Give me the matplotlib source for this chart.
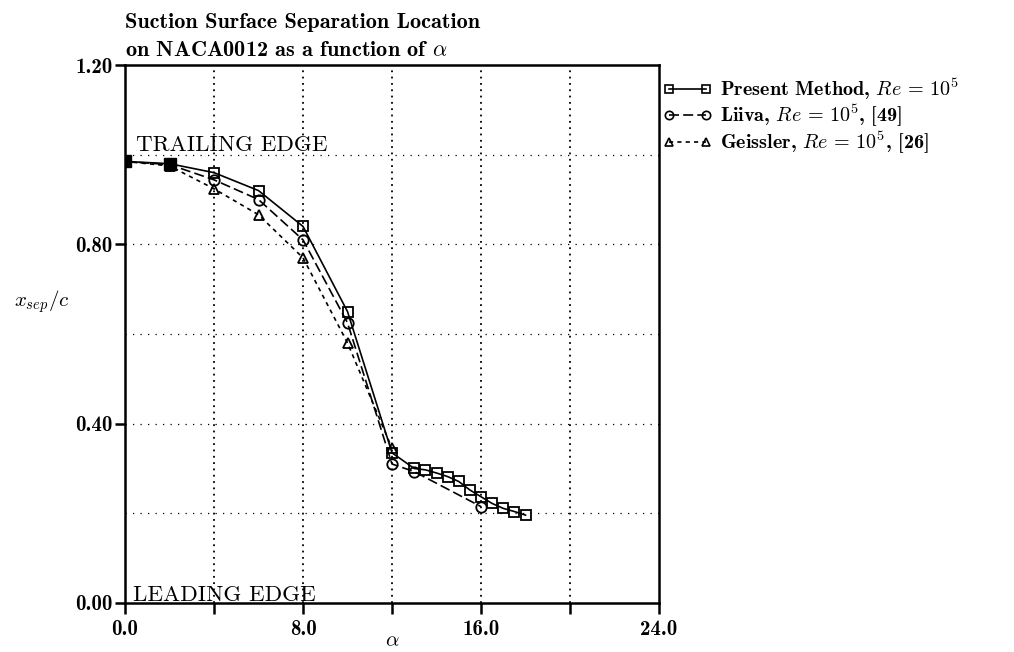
import matplotlib
matplotlib.use("Agg")
import matplotlib.pyplot as plt
from matplotlib.lines import Line2D

plt.rcParams['font.family'] = ['cmb10', 'DejaVu Serif']
plt.rcParams['mathtext.fontset'] = 'cm'
plt.rcParams['axes.unicode_minus'] = False

# Valeurs (x_sep/c en fonction de alpha)
alpha_present = [0, 2, 4, 6, 8, 10, 12, 13, 13.5, 14, 14.5, 15, 15.5, 16, 16.5, 17, 17.5, 18]
xsep_present = [0.985, 0.98, 0.96, 0.92, 0.84, 0.65, 0.335, 0.30, 0.297, 0.29, 0.282,
                0.271, 0.252, 0.237, 0.222, 0.211, 0.204, 0.196]
alpha_liiva = [0, 2, 4, 6, 8, 10, 12, 13, 16]
xsep_liiva = [0.985, 0.978, 0.944, 0.90, 0.81, 0.625, 0.31, 0.293, 0.215]
alpha_geissler = [0, 2, 4, 6, 8, 10, 12]
xsep_geissler = [0.985, 0.975, 0.924, 0.866, 0.77, 0.58, 0.345]

labels = [r'Present Method, $Re\,=\,10^5$',
          r'Liiva, $Re\,=\,10^5$, [49]',
          r'Geissler, $Re\,=\,10^5$, [26]']
x_major = [0, 8, 16, 24]
x_minor = [4, 12, 20]
y_major = [0.0, 0.4, 0.8, 1.2]
y_grid = [0.2, 0.4, 0.6, 0.8, 1.0]

fig = plt.figure(figsize=(10.14, 6.52), dpi=100)
ax = fig.add_axes([0.1233, 0.0752, 0.5266, 0.825])

# Grille pointillée
for gx in x_minor + x_major[1:-1]:
    ax.axvline(gx, color='black', lw=1.3, linestyle=(0, (1, 2.5)), zorder=1)
for gy in y_grid:
    ax.axhline(gy, color='black', lw=0.9, linestyle=(0, (1, 5)), zorder=1)

# Courbes
ax.plot(alpha_present, xsep_present, color='black', lw=1.2, linestyle='-',
        marker='s', ms=7.5, mfc='none', mew=1.3, zorder=3)
ax.plot(alpha_liiva, xsep_liiva, color='black', lw=1.2, linestyle=(0, (6, 2.5)),
        marker='o', ms=7.5, mfc='none', mew=1.3, zorder=3)
ax.plot(alpha_geissler, xsep_geissler, color='black', lw=1.2, linestyle=(0, (2.5, 2.5)),
        marker='^', ms=7.5, mfc='none', mew=1.3, zorder=3)
# les trois symboles se superposent a alpha = 0 et 2 (taches noires)
ax.plot(alpha_present[:2], xsep_present[:2], linestyle='none', marker='s', ms=8,
        color='black', zorder=4)

ax.set_xlim(0, 24)
ax.set_ylim(0, 1.2)
ax.set_xticks(x_major)
ax.set_xticklabels(['%.1f' % v for v in x_major])
ax.set_xticks(x_minor, minor=True)
ax.set_yticks(y_major)
ax.set_yticklabels(['%.2f' % v for v in y_major])
ax.tick_params(axis='both', which='both', direction='out', width=1.8, labelsize=15, color='black')
ax.tick_params(axis='x', which='both', length=8, pad=4)
ax.tick_params(axis='y', which='both', length=7, pad=2)
for s in ax.spines.values():
    s.set_linewidth(1.8)

ax.set_xlabel(r'$\alpha$', fontsize=15, labelpad=-5)
ax.set_ylabel(r'$x_{sep}/c$', fontsize=15, rotation=0)
ax.yaxis.set_label_coords(-0.155, 0.535)

ax.text(0.5, 1.008, 'TRAILING EDGE', family='cmr10', fontsize=16.5, va='baseline', ha='left')
ax.text(0.35, 0.004, 'LEADING EDGE', family='cmr10', fontsize=16.5, va='baseline', ha='left')

fig.text(0.1233, 0.966, 'Suction Surface Separation Location', fontsize=16, va='center', ha='left')
fig.text(0.1233, 0.923, r'on NACA0012 as a function of $\alpha$', fontsize=16, va='center', ha='left')

handles = [Line2D([], [], color='black', lw=1.2, linestyle='-', marker='s', ms=6, mfc='none', mew=1.2),
           Line2D([], [], color='black', lw=1.2, linestyle=(0, (6, 2.5)), marker='o', ms=6, mfc='none', mew=1.2),
           Line2D([], [], color='black', lw=1.2, linestyle=(0, (2.5, 2.5)), marker='^', ms=6, mfc='none', mew=1.2)]
ax.legend(handles, labels, loc='upper left', bbox_to_anchor=(1.008, 0.978), frameon=False,
          numpoints=2, handlelength=2.4, handletextpad=0.4, labelspacing=0.02,
          borderaxespad=0, borderpad=0, fontsize=14.5)

fig.savefig('out.png', dpi=100)
